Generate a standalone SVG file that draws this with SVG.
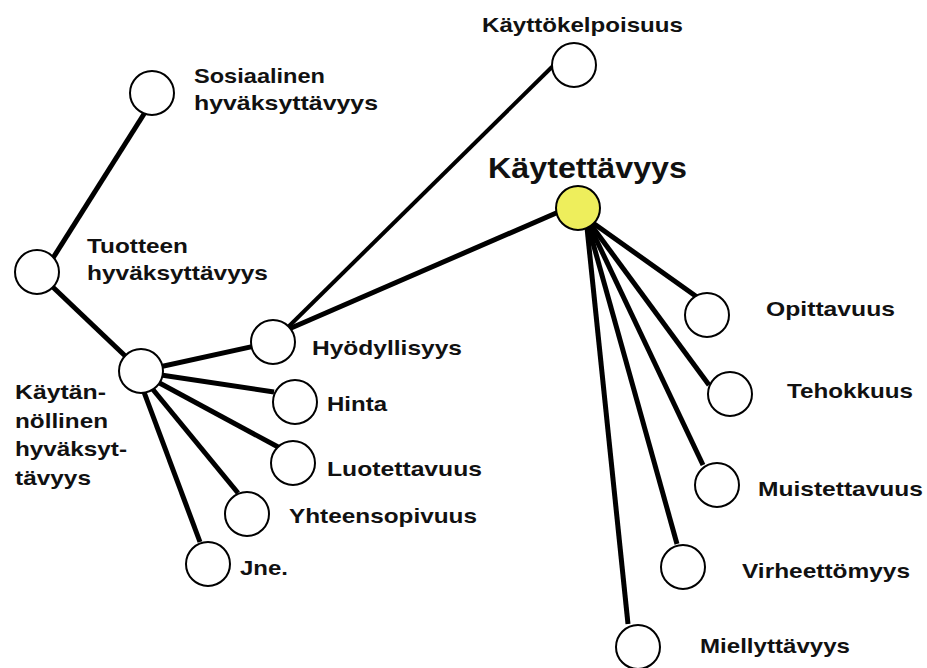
<svg xmlns="http://www.w3.org/2000/svg" width="927" height="668" viewBox="0 0 927 668">
<style>
  .bg { fill: #ffffff; }
  .edge { stroke: #000; stroke-width: 5; stroke-linecap: butt; fill: none; }
  .thin { stroke-width: 4; }
  .node { fill: #ffffff; stroke: #000; stroke-width: 2; }
  .main { fill: #eeee5c; stroke: #000; stroke-width: 2; }
  text { font-family: "Liberation Sans", Arial, sans-serif; font-weight: bold; font-size: 21px; fill: #111; }
  .big { font-size: 29px; }
</style>
<rect class="bg" x="0" y="0" width="927" height="668"/>
<g id="connectors">
  <line class="edge" x1="156" y1="95" x2="41" y2="277"/>
  <line class="edge" x1="37" y1="272" x2="141" y2="371"/>
  <line class="edge" x1="141" y1="371" x2="273" y2="342"/>
  <line class="edge thin" x1="278" y1="337" x2="556" y2="63"/>
  <line class="edge" x1="275" y1="335" x2="570" y2="207"/>
  <line class="edge" x1="141" y1="372" x2="274" y2="392"/>
  <line class="edge" x1="141" y1="373" x2="280" y2="448"/>
  <line class="edge" x1="141" y1="375" x2="238" y2="493"/>
  <line class="edge" x1="138" y1="376" x2="200" y2="542"/>
  <line class="edge" x1="586" y1="218" x2="697" y2="297"/>
  <line class="edge" x1="586" y1="218" x2="709" y2="385"/>
  <line class="edge" x1="586" y1="218" x2="703" y2="465"/>
  <line class="edge" x1="586" y1="218" x2="677" y2="544"/>
  <line class="edge" x1="586" y1="218" x2="628" y2="624"/>
</g>
<g id="sosiaalinen">
  <circle class="node" cx="152" cy="93" r="22"/>
  <text x="194" y="83" textLength="131" lengthAdjust="spacingAndGlyphs">Sosiaalinen</text>
  <text x="194" y="110" textLength="184" lengthAdjust="spacingAndGlyphs">hyväksyttävyys</text>
</g>
<g id="tuotteen">
  <circle class="node" cx="37" cy="272" r="22"/>
  <text x="87" y="253" textLength="101" lengthAdjust="spacingAndGlyphs">Tuotteen</text>
  <text x="87" y="280" textLength="181" lengthAdjust="spacingAndGlyphs">hyväksyttävyys</text>
</g>
<g id="kaytannollinen">
  <circle class="node" cx="141" cy="371" r="22"/>
  <text x="15" y="399" textLength="91" lengthAdjust="spacingAndGlyphs">Käytän-</text>
  <text x="15" y="428" textLength="93" lengthAdjust="spacingAndGlyphs">nöllinen</text>
  <text x="15" y="456" textLength="112" lengthAdjust="spacingAndGlyphs">hyväksyt-</text>
  <text x="15" y="485" textLength="76" lengthAdjust="spacingAndGlyphs">tävyys</text>
</g>
<g id="hyodyllisyys">
  <circle class="node" cx="273" cy="342" r="22"/>
  <text x="312" y="355" textLength="150" lengthAdjust="spacingAndGlyphs">Hyödyllisyys</text>
</g>
<g id="kayttokelpoisuus">
  <circle class="node" cx="574" cy="65" r="22"/>
  <text x="482" y="32" textLength="201" lengthAdjust="spacingAndGlyphs">Käyttökelpoisuus</text>
</g>
<g id="kaytettavyys">
  <circle class="main" cx="578" cy="208" r="22"/>
  <text class="big" x="488" y="178" textLength="199" lengthAdjust="spacingAndGlyphs">Käytettävyys</text>
</g>
<g id="hinta">
  <circle class="node" cx="295" cy="402" r="22"/>
  <text x="327" y="411" textLength="60" lengthAdjust="spacingAndGlyphs">Hinta</text>
</g>
<g id="luotettavuus">
  <circle class="node" cx="293" cy="463" r="22"/>
  <text x="327" y="476" textLength="155" lengthAdjust="spacingAndGlyphs">Luotettavuus</text>
</g>
<g id="yhteensopivuus">
  <circle class="node" cx="247" cy="514" r="22"/>
  <text x="289" y="523" textLength="188" lengthAdjust="spacingAndGlyphs">Yhteensopivuus</text>
</g>
<g id="jne">
  <circle class="node" cx="208" cy="564" r="22"/>
  <text x="240" y="575" textLength="48" lengthAdjust="spacingAndGlyphs">Jne.</text>
</g>
<g id="opittavuus">
  <circle class="node" cx="707" cy="315" r="22"/>
  <text x="766" y="316" textLength="129" lengthAdjust="spacingAndGlyphs">Opittavuus</text>
</g>
<g id="tehokkuus">
  <circle class="node" cx="730" cy="394" r="22"/>
  <text x="787" y="398" textLength="126" lengthAdjust="spacingAndGlyphs">Tehokkuus</text>
</g>
<g id="muistettavuus">
  <circle class="node" cx="717" cy="485" r="22"/>
  <text x="758" y="496" textLength="165" lengthAdjust="spacingAndGlyphs">Muistettavuus</text>
</g>
<g id="virheettomyys">
  <circle class="node" cx="683" cy="567" r="22"/>
  <text x="742" y="578" textLength="168" lengthAdjust="spacingAndGlyphs">Virheettömyys</text>
</g>
<g id="miellyttavyys">
  <circle class="node" cx="638" cy="647" r="22"/>
  <text x="700" y="653" textLength="150" lengthAdjust="spacingAndGlyphs">Miellyttävyys</text>
</g>
</svg>
